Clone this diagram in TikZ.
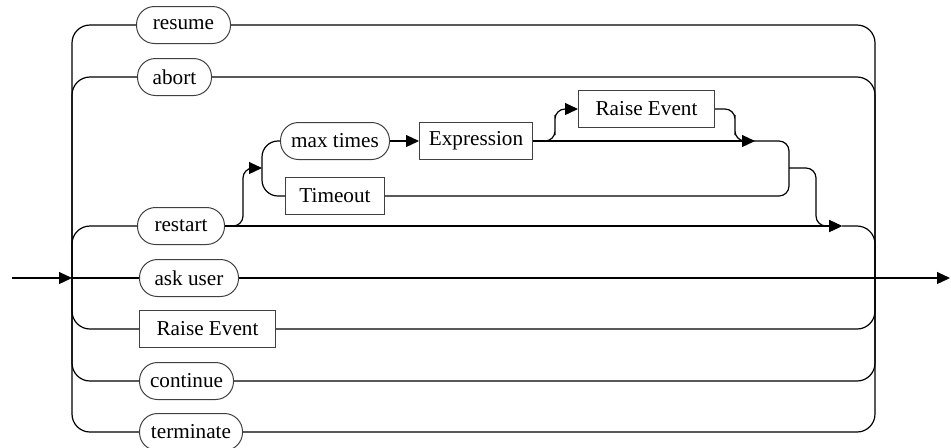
\documentclass[tikz,border=0pt]{standalone}
\usepackage{fontspec}
\setmainfont{Liberation Serif}
\usetikzlibrary{arrows.meta}

\tikzset{
    term/.style={draw=black!75, line width=0.5pt, rounded corners=9pt, anchor=west,
        minimum height=18.5pt, inner xsep=2pt, inner ysep=0pt,
        font=\fontsize{10.6}{12}\selectfont},
    nonterm/.style={draw=black!75, line width=0.5pt, anchor=west,
        minimum height=18.5pt, inner xsep=2pt, inner ysep=0pt,
        font=\fontsize{10.6}{12}\selectfont},
    rail/.style={line width=0.6pt, rounded corners=9pt},
    tip/.style={-{Triangle[length=6.5pt,width=6pt]}}
}

\begin{document}
\begin{tikzpicture}[x=0.5pt, y=-0.5pt]

    \useasboundingbox (0,0) rectangle (951,447);

    % =================================================================
    % 1. JUNCTION POINTS
    % =================================================================
    \coordinate (in) at (12,278);
    \coordinate (L) at (72,278);
    \coordinate (R) at (875,278);
    \coordinate (out) at (950,278);

    % inner loop of restart
    \coordinate (A0) at (243,168);
    \coordinate (A) at (262,168);
    \coordinate (X1) at (555,125);
    \coordinate (X2) at (735,125);
    \coordinate (B) at (755,141);
    \coordinate (C) at (789,168);
    \coordinate (X3) at (816,200);
    \coordinate (D) at (842,226);

    % =================================================================
    % 2. NODES
    % =================================================================
    \node[term, minimum width=47pt] (resume) at (136,25) {resume};
    \node[term, minimum width=37pt] (abort) at (137,77) {abort};
    \node[term, minimum width=54.5pt] (maxtimes) at (280,141) {max times};
    \node[nonterm, minimum width=56.5pt] (expr) at (419,141) {Expression};
    \node[nonterm, minimum width=68pt] (raisetop) at (578,109) {Raise Event};
    \node[nonterm, minimum width=49.5pt] (timeout) at (285,196) {Timeout};
    \node[term, minimum width=43.5pt] (restart) at (137,226) {restart};
    \node[term, minimum width=49.5pt] (askuser) at (139,278) {ask user};
    \node[nonterm, minimum width=68pt] (raiselow) at (139,329) {Raise Event};
    \node[term, minimum width=47pt] (continue) at (139,381) {continue};
    \node[term, minimum width=51.5pt] (terminate) at (139,432) {terminate};

    % =================================================================
    % 3. MAIN CHOICE
    % =================================================================
    \draw[rail, tip] (in) -- (L);
    \draw[rail, tip] (R) -- (out);

    \foreach \n in {resume, abort, restart, raiselow, continue, terminate}
        \draw[rail] (L) |- (\n.west);
    \draw[rail] (L) -- (askuser.west);

    \foreach \n in {resume, abort, raiselow, continue, terminate}
        \draw[rail] (\n.east) -| (R);
    \draw[rail] (askuser.east) -- (R);

    \draw[rail, tip] (restart.east) -- (D);
    \draw[rail] (D) -| (R);

    % =================================================================
    % 4. OPTIONAL PART AFTER restart
    % =================================================================
    \draw[rail, rounded corners=5pt, tip] (restart.east) -| (A0) -- (A);
    \draw[rail, rounded corners=8pt] (A) |- (maxtimes.west);
    \draw[rail, rounded corners=8pt] (A) |- (timeout.west);

    \draw[rail, tip] (maxtimes.east) -- (expr.west);
    \draw[rail, tip] (expr.east) -- (B);
    \draw[rail, rounded corners=5pt, tip] (expr.east) -| (X1) |- (raisetop.west);
    \draw[rail, rounded corners=5pt] (raisetop.east) -| (X2) |- (B);

    \draw[rail, rounded corners=5pt] (B) -| (C);
    \draw[rail, rounded corners=5pt] (timeout.east) -| (C);
    \draw[rail, rounded corners=5pt, tip] (C) -| (X3) |- (D);

\end{tikzpicture}
\end{document}
